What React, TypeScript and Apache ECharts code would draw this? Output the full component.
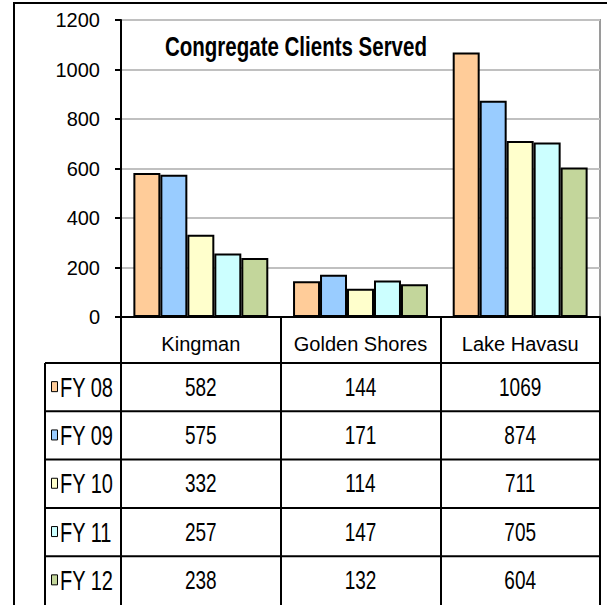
import React, { useEffect, useRef } from "react";
import * as echarts from "echarts";

const categories = ["Kingman", "Golden Shores", "Lake Havasu"];
const seriesNames = ["FY 08", "FY 09", "FY 10", "FY 11", "FY 12"];
const fy08 = [582, 144, 1069];
const fy09 = [575, 171, 874];
const fy10 = [332, 114, 711];
const fy11 = [257, 147, 705];
const fy12 = [238, 132, 604];
const seriesValues = [fy08, fy09, fy10, fy11, fy12];
const colors = ["#FFCC99", "#99CCFF", "#FFFFCC", "#CCFFFF", "#C3D69B"];
const title = "Congregate Clients Served";

const FONT = '"Liberation Sans", Arial, sans-serif';
const STRETCH = 1.35;

export default function App() {
  const ref = useRef<HTMLDivElement>(null);
  useEffect(() => {
    if (!ref.current) return;
    const chart = echarts.init(ref.current, null, { renderer: "svg" });
    const W = 607;
    const gridLeft = 121;
    const gridRight = 600;
    const gridTop = 20;
    const gridBottom = 317;
    const tableTop = 363;
    const rowH = 48.3;
    const catW = (gridRight - gridLeft) / categories.length;

    const graphics: any[] = [
      {
        type: "rect",
        shape: { x: 14, y: 3, width: 700, height: 700 },
        style: { fill: "none", stroke: "#000", lineWidth: 2 },
        silent: true,
      },
      {
        type: "text",
        x: 165,
        y: 46,
        scaleY: STRETCH,
        style: {
          text: title,
          fontFamily: FONT,
          fontSize: 20.5,
          fontWeight: "bold",
          fill: "#000",
          align: "left",
          verticalAlign: "middle",
        },
      },
      {
        type: "line",
        shape: { x1: 45, y1: tableTop, x2: 45, y2: 610 },
        style: { stroke: "#000", lineWidth: 2 },
      },
    ];
    seriesNames.forEach((name, r) => {
      const y = tableTop + rowH * r;
      const cy = y + rowH / 2;
      graphics.push({
        type: "line",
        shape: { x1: 45, y1: y, x2: gridRight, y2: y },
        style: { stroke: "#000", lineWidth: 2 },
      });
      graphics.push({
        type: "rect",
        shape: { x: 51.5, y: cy - 5.5, width: 6, height: 10 },
        style: { fill: colors[r], stroke: "#000", lineWidth: 1 },
      });
      graphics.push({
        type: "text",
        x: 60,
        y: cy,
        scaleY: STRETCH,
        style: {
          text: name,
          fontFamily: FONT,
          fontSize: 20,
          fill: "#000",
          align: "left",
          verticalAlign: "middle",
        },
      });
      seriesValues[r].forEach((v, c) => {
        graphics.push({
          type: "text",
          x: gridLeft + catW * (c + 0.5),
          y: cy,
          scaleY: STRETCH,
          style: {
            text: String(v),
            fontFamily: FONT,
            fontSize: 19,
            fill: "#000",
            align: "center",
            verticalAlign: "middle",
          },
        });
      });
    });

    chart.setOption({
      animation: false,
      backgroundColor: "#fff",
      grid: {
        left: gridLeft,
        right: W - gridRight,
        top: gridTop,
        bottom: 605 - gridBottom,
        show: true,
        borderColor: "#9A9A9A",
        borderWidth: 2,
        backgroundColor: "transparent",
      },
      xAxis: {
        type: "category",
        data: categories,
        axisLine: { lineStyle: { color: "#000", width: 2 } },
        axisTick: { show: true, length: 300, lineStyle: { color: "#000", width: 2 } },
        axisLabel: { fontFamily: FONT, fontSize: 20, color: "#000", margin: 17, interval: 0 },
      },
      yAxis: {
        type: "value",
        min: 0,
        max: 1200,
        interval: 200,
        axisLine: { show: true, lineStyle: { color: "#000", width: 2 } },
        axisTick: { show: true, length: 6, lineStyle: { color: "#000", width: 2 } },
        axisLabel: {
          fontFamily: FONT,
          fontSize: 20,
          color: "#000",
          margin: 21,
          formatter: (v: number) => String(v),
        },
        splitLine: { lineStyle: { color: "#C0C0C0", width: 2 } },
      },
      series: seriesNames.map((name, i) => ({
        name,
        type: "bar",
        data: seriesValues[i],
        barGap: "0%",
        barCategoryGap: "15.5%",
        itemStyle: { color: colors[i], borderColor: "#000", borderWidth: 2 },
      })),
      graphic: graphics,
    });
    return () => chart.dispose();
  }, []);
  return (
    <div
      ref={ref}
      style={{ position: "fixed", left: 0, top: 0, width: 607, height: 605 }}
    />
  );
}
